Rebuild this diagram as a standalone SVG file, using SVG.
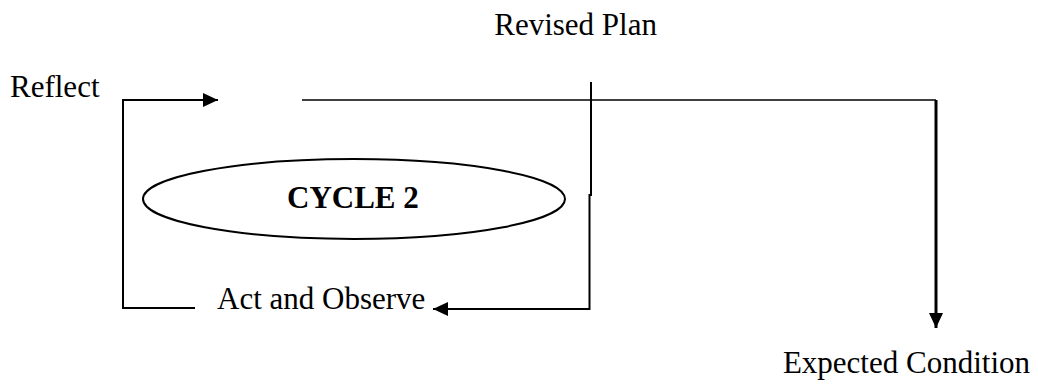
<svg xmlns="http://www.w3.org/2000/svg" width="1038" height="388" viewBox="0 0 1038 388">
<style>
.t{font-family:"Liberation Serif","Times New Roman",serif;font-size:31px;fill:#000}
.b{font-weight:bold}
.ln{fill:none;stroke:#000;stroke-width:2}
.thin{stroke-width:1.6}
.thick{stroke-width:3}
</style>
<defs>
<marker id="ah" markerUnits="userSpaceOnUse" markerWidth="16" markerHeight="16" viewBox="0 0 16 16" refX="15" refY="8" orient="auto">
<path d="M0,1 L15,8 L0,15 Z" fill="#000"/>
</marker>
</defs>
<rect width="1038" height="388" fill="#fff"/>
<g id="connectors">
<path class="ln" d="M195,308 L123,308 L123,100 L218,100" marker-end="url(#ah)"/>
<path class="ln thin" d="M302,100 L936,100"/>
<path class="ln thick" d="M936,100 L936,328" marker-end="url(#ah)"/>
<path class="ln" d="M591,82 L591,195 L589.5,195 L589.5,309 L433,309" marker-end="url(#ah)"/>
</g>
<g id="node-cycle2">
<ellipse cx="354" cy="199" rx="211" ry="40" fill="none" stroke="#000" stroke-width="2"/>
<text class="t b" x="287" y="208">CYCLE 2</text>
</g>
<g id="node-reflect"><text class="t" x="10" y="97">Reflect</text></g>
<g id="node-revised-plan"><text class="t" x="657" y="35" text-anchor="end">Revised Plan</text></g>
<g id="node-act-observe"><text class="t" x="217" y="309">Act and Observe</text></g>
<g id="node-expected"><text class="t" x="1030" y="373" text-anchor="end">Expected Condition</text></g>
</svg>
